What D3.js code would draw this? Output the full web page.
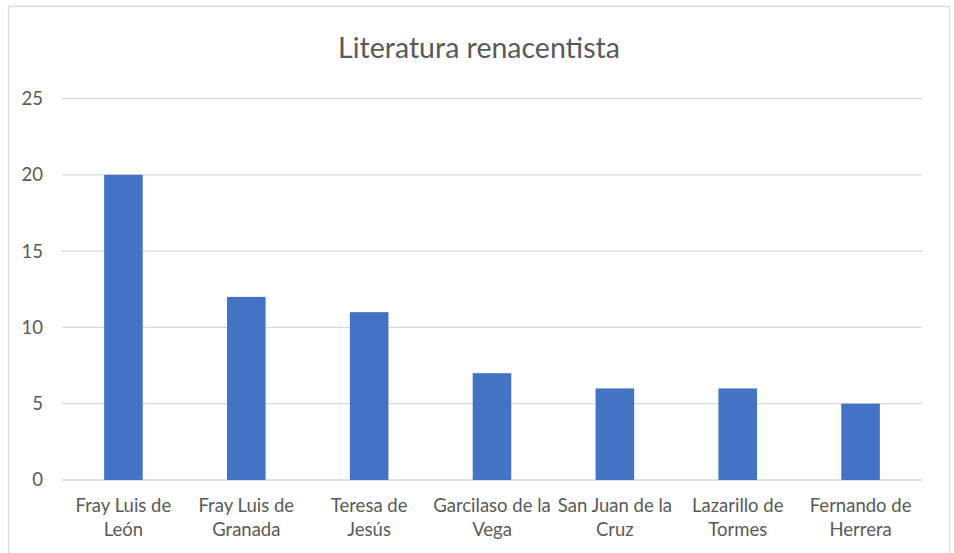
<!DOCTYPE html>
<html>
<head>
<meta charset="utf-8">
<script src="https://cdn.jsdelivr.net/npm/d3@7"></script>
<style>
  body { margin: 0; background: #fff; }
  text { font-family: Lato, "Open Sans", sans-serif; fill: #595959; }
</style>
</head>
<body>
<div id="chart"></div>
<script>
var categories = ["Fray Luis de León", "Fray Luis de Granada", "Teresa de Jesús",
  "Garcilaso de la Vega", "San Juan de la Cruz", "Lazarillo de Tormes", "Fernando de Herrera"];
var values = [20, 12, 11, 7, 6, 6, 5];
var yTicks = [0, 5, 10, 15, 20, 25];

var svgWidth = 954;
var svgHeight = 553;

var margin = { top: 98.5, right: 32, bottom: 73, left: 62 };
var width = svgWidth - margin.left - margin.right;
var height = svgHeight - margin.top - margin.bottom;

var svg = d3.select("#chart")
  .append("svg")
  .attr("width", svgWidth)
  .attr("height", svgHeight);

// chart area border
svg.append("rect")
  .attr("x", 8.5)
  .attr("y", 6.5)
  .attr("width", 941)
  .attr("height", 560)
  .attr("fill", "none")
  .attr("stroke", "#d9d9d9")
  .attr("stroke-width", 1.3);

svg.append("text")
  .attr("x", 479)
  .attr("y", 58)
  .attr("text-anchor", "middle")
  .style("font-size", "28.5px")
  .text("Literatura renacentista");

var chart = svg.append("g")
  .attr("transform", `translate(${margin.left}, ${margin.top})`);

var x = d3.scaleBand()
  .domain(categories)
  .range([0, width])
  .paddingInner(0.686)
  .paddingOuter(0.343);

var y = d3.scaleLinear()
  .domain([0, 25])
  .range([height, 0]);

// gridlines
chart.append("g")
  .selectAll("line")
  .data(yTicks)
  .enter()
  .append("line")
  .attr("x1", 0)
  .attr("x2", width)
  .attr("y1", d => y(d))
  .attr("y2", d => y(d))
  .attr("stroke", "#d9d9d9")
  .attr("stroke-width", 1.3);

var yAxis = chart.append("g")
  .call(d3.axisLeft(y).tickValues(yTicks).tickSize(0).tickPadding(19));
yAxis.select(".domain").remove();
yAxis.selectAll("text")
  .style("font-size", "18.5px")
  .attr("fill", "#595959");

chart.selectAll(".bar")
  .data(values)
  .enter()
  .append("rect")
  .attr("class", "bar")
  .attr("x", (d, i) => x(categories[i]))
  .attr("y", d => y(d))
  .attr("width", x.bandwidth())
  .attr("height", d => height - y(d))
  .attr("fill", "#4472C4");

var xAxis = chart.append("g")
  .attr("transform", `translate(0, ${height})`)
  .call(d3.axisBottom(x).tickSize(0).tickPadding(0));
xAxis.select(".domain").remove();
xAxis.selectAll("text")
  .style("font-size", "18.5px")
  .attr("fill", "#595959")
  .call(wrap, x.step());

function wrap(texts, maxWidth) {
  texts.each(function() {
    var t = d3.select(this);
    var words = t.text().split(" ");
    t.text(null);
    var lines = [];
    var line = [];
    var tspan = t.append("tspan");
    words.forEach(function(w) {
      line.push(w);
      tspan.text(line.join(" "));
      if (tspan.node().getComputedTextLength() > maxWidth - 4 && line.length > 1) {
        line.pop();
        lines.push(line.join(" "));
        line = [w];
      }
    });
    lines.push(line.join(" "));
    t.text(null);
    lines.forEach(function(l, i) {
      t.append("tspan")
        .attr("x", 0)
        .attr("y", 32 + i * 24)
        .attr("dy", 0)
        .text(l);
    });
  });
}
</script>
</body>
</html>
